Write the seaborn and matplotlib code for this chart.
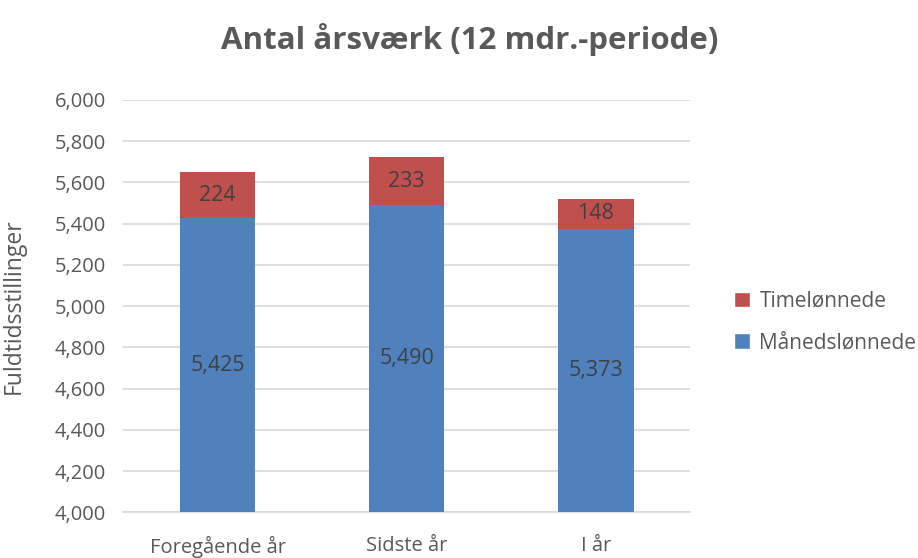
import matplotlib
matplotlib.use("Agg")
import matplotlib.pyplot as plt
import seaborn as sns
import pandas as pd
from matplotlib.patches import Patch

categories = ["Foregående år", "Sidste år", "I år"]
maanedsloennede = [5425, 5490, 5373]
timeloennede = [224, 233, 148]
y_ticks = [4000, 4200, 4400, 4600, 4800, 5000, 5200, 5400, 5600, 5800, 6000]

sns.set_theme(style="white")
plt.rcParams["font.family"] = ["Open Sans", "DejaVu Sans"]

BLUE = "#4F81BD"
RED = "#C0504D"
TXT = "#595959"

df = pd.DataFrame({
    "kategori": categories,
    "maaned": maanedsloennede,
    "time": timeloennede,
})
df["total"] = df["maaned"] + df["time"]

fig = plt.figure(figsize=(9.18, 5.58), dpi=100)
ax = fig.add_axes([0.134, 0.082, 0.618, 0.739])

sns.barplot(data=df, x="kategori", y="total", color=RED, width=0.4,
            saturation=1, ax=ax, zorder=2, linewidth=0, edgecolor="none")
sns.barplot(data=df, x="kategori", y="maaned", color=BLUE, width=0.4,
            saturation=1, ax=ax, zorder=3, linewidth=0, edgecolor="none")

ax.set_ylim(4000, 6000)
ax.set_xlim(-0.5, 2.5)
ax.set_yticks(y_ticks)
ax.set_yticklabels([f"{v:,}" for v in y_ticks], fontsize=14.5, color=TXT)
ax.tick_params(axis="x", labelsize=14.5, colors=TXT, pad=17, length=0)
ax.tick_params(axis="y", length=0, pad=12)
ax.set_xlabel("")
ax.set_ylabel("Fuldtidsstillinger", fontsize=16.5, color=TXT)
ax.yaxis.set_label_coords(-0.172, 0.5)
ax.grid(axis="y", color="#D9D9D9", linewidth=1.2, zorder=0)
ax.set_axisbelow(True)
for s in ["top", "right", "left"]:
    ax.spines[s].set_visible(False)
ax.spines["bottom"].set_color("#D9D9D9")
ax.spines["bottom"].set_linewidth(1.2)

for i, (m, t) in enumerate(zip(maanedsloennede, timeloennede)):
    ax.text(i, (4000 + m) / 2, f"{m:,}", ha="center", va="center",
            fontsize=15.5, color="#404040", zorder=5)
    ax.text(i, m + t / 2, f"{t:,}", ha="center", va="center",
            fontsize=15.5, color="#404040", zorder=5)

fig.text(0.512, 0.93, "Antal årsværk (12 mdr.-periode)", ha="center",
         va="center", fontsize=22.5, fontweight="bold", color=TXT)

handles = [Patch(facecolor=RED, label="Timelønnede"),
           Patch(facecolor=BLUE, label="Månedslønnede")]
fig.legend(handles=handles, loc="center left", bbox_to_anchor=(0.8, 0.423),
           frameon=False, fontsize=15, labelcolor=TXT, handlelength=0.75,
           handleheight=0.75, handletextpad=0.45, labelspacing=1.0,
           borderpad=0, borderaxespad=0)

fig.savefig("out.png", dpi=100)
